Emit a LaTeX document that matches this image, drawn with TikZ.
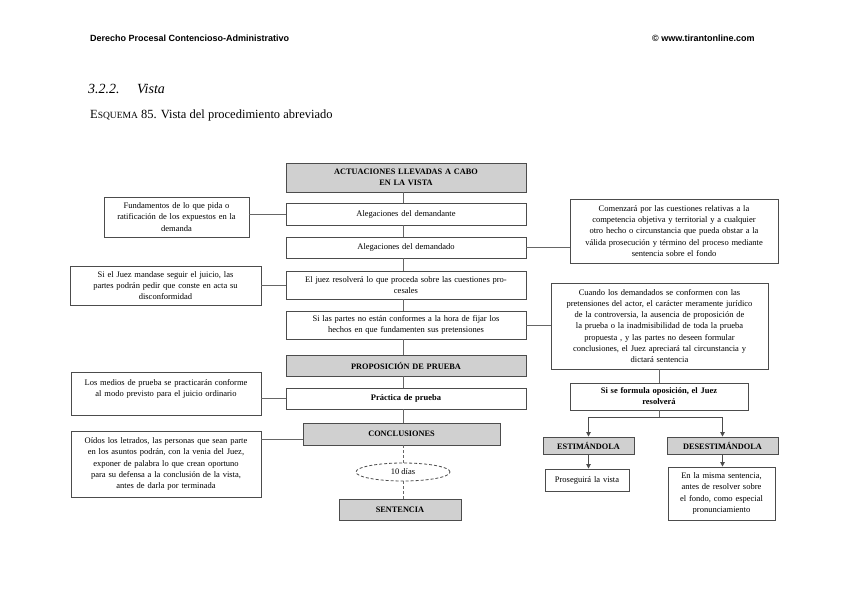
\documentclass[tikz,border=0pt]{standalone}
\usepackage{fontspec}
\setmainfont{Liberation Serif}
\newfontfamily\hdrfont{Liberation Sans}
\usetikzlibrary{shapes.geometric,arrows.meta,calc}
\begin{document}
\begin{tikzpicture}[x=1pt,y=-1pt,
 box/.style={draw=black!70, line width=0.9pt, fill=white, rectangle, inner sep=2pt, align=center, font=\fontsize{8.5}{11.3}\selectfont},
 graybox/.style={box, fill=gray!37, font=\fontsize{8.3}{10.5}\selectfont\bfseries},
 boldbox/.style={box, font=\fontsize{8.5}{11}\selectfont\bfseries},
 link/.style={draw=black!60, line width=0.9pt},
 dlink/.style={link, densely dashed},
 arr/.style={draw=black!70, line width=0.9pt, -{Triangle[length=4.5pt,width=4.5pt]}},
 hdr/.style={font=\hdrfont\bfseries\fontsize{9}{10}\selectfont, anchor=base west, inner sep=0pt}
]
\useasboundingbox[fill=white] (0,0) rectangle (848,601);

% page headers
\node[hdr] (h1) at (90,42) {Derecho Procesal Contencioso-Administrativo};
\node[hdr] (h2) at (652,42) {© www.tirantonline.com};
\node[anchor=base west, inner sep=0pt, font=\itshape\fontsize{14}{16}\selectfont] (sec) at (88,94) {3.2.2.};
\node[anchor=base west, inner sep=0pt, font=\itshape\fontsize{14}{16}\selectfont] (sect) at (137,94) {Vista};
\node[anchor=base west, inner sep=0pt, font=\fontsize{12.5}{14}\selectfont] (cap) at (90,119) {E{\fontsize{9.5}{11}\selectfont SQUEMA} 85. Vista del procedimiento abreviado};

% central column
\coordinate (sp) at (403,0);
\node[graybox, minimum width=240pt, minimum height=29pt, text width=232pt] (act) at (406,177.5) {ACTUACIONES LLEVADAS A CABO\\EN LA VISTA};
\node[box, minimum width=240pt, minimum height=22pt, text width=232pt] (dte) at (406,214) {Alegaciones del demandante};
\node[box, minimum width=240pt, minimum height=21pt, text width=232pt] (ddo) at (406,247.5) {Alegaciones del demandado};
\node[box, minimum width=240pt, minimum height=28pt, text width=236pt] (juez) at (406,285) {El juez resolverá lo que proceda sobre las cuestiones pro-\\cesales};
\node[box, minimum width=240pt, minimum height=28pt, text width=232pt] (partes) at (406,325) {Si las partes no están conformes a la hora de fijar los\\hechos en que fundamenten sus pretensiones};
\node[graybox, minimum width=240pt, minimum height=21pt, text width=232pt] (prop) at (406,365.5) {PROPOSICIÓN DE PRUEBA};
\node[boldbox, minimum width=240pt, minimum height=21pt, text width=232pt] (prac) at (406,398.5) {Práctica de prueba};
\node[graybox, minimum width=197pt, minimum height=22pt, text width=189pt] (concl) at (401.5,434) {CONCLUSIONES};
\node[ellipse, draw=black!70, line width=0.8pt, densely dashed, minimum width=94pt, minimum height=18pt, inner sep=0pt, font=\fontsize{8.5}{10}\selectfont] (ell) at (403,472) {10 días};
\node[graybox, minimum width=122pt, minimum height=21pt, text width=114pt] (sent) at (400,509.5) {SENTENCIA};

% left column
\node[box, minimum width=145pt, minimum height=40pt, text width=141pt] (fund) at (176.5,217) {Fundamentos de lo que pida o\\ratificación de los expuestos en la\\demanda};
\node[box, minimum width=191pt, minimum height=39pt, text width=187pt] (siel) at (165.5,285.5) {Si el Juez mandase seguir el juicio, las\\partes podrán pedir que conste en acta su\\disconformidad};
\node[box, minimum width=190pt, minimum height=43pt, text width=186pt] (medios) at (166,393.5) {Los medios de prueba se practicarán conforme\\al modo previsto para el juicio ordinario\\\mbox{}};
\node[box, minimum width=190pt, minimum height=66pt, text width=186pt] (oidos) at (166,464) {Oídos los letrados, las personas que sean parte\\en los asuntos podrán, con la venia del Juez,\\exponer de palabra lo que crean oportuno\\para su defensa a la conclusión de la vista,\\antes de darla por terminada};

% right column
\node[box, minimum width=208pt, minimum height=64pt, text width=204pt] (com) at (674,231) {Comenzará por las cuestiones relativas a la\\competencia objetiva y territorial y a cualquier\\otro hecho o circunstancia que pueda obstar a la\\válida prosecución y término del proceso mediante\\sentencia sobre el fondo};
\node[box, minimum width=217pt, minimum height=86pt, text width=213pt] (cuando) at (659.5,326) {Cuando los demandados se conformen con las\\pretensiones del actor, el carácter meramente jurídico\\de la controversia, la ausencia de proposición de\\la prueba o la inadmisibilidad de toda la prueba\\propuesta , y las partes no deseen formular\\conclusiones, el Juez apreciará tal circunstancia y\\dictará sentencia};
\node[boldbox, minimum width=178pt, minimum height=27pt, text width=172pt] (opos) at (659,396.5) {Si se formula oposición, el Juez\\resolverá};
\node[graybox, minimum width=91pt, minimum height=17pt, text width=89pt, inner sep=1pt] (est) at (588.5,445.5) {ESTIMÁNDOLA};
\node[graybox, minimum width=111pt, minimum height=17pt, text width=109pt, inner sep=1pt] (desest) at (722.5,445.5) {DESESTIMÁNDOLA};
\node[box, minimum width=84pt, minimum height=22pt, text width=80pt] (pros) at (587,480) {Proseguirá la vista};
\node[box, minimum width=107pt, minimum height=53pt, text width=103pt] (misma) at (721.5,493.5) {En la misma sentencia,\\antes de resolver sobre\\el fondo, como especial\\pronunciamiento};

% spine connectors
\draw[link] (act.south -| sp) -- (dte.north -| sp);
\draw[link] (dte.south -| sp) -- (ddo.north -| sp);
\draw[link] (ddo.south -| sp) -- (juez.north -| sp);
\draw[link] (juez.south -| sp) -- (partes.north -| sp);
\draw[link] (partes.south -| sp) -- (prop.north -| sp);
\draw[link] (prop.south -| sp) -- (prac.north -| sp);
\draw[link] (prac.south -| sp) -- (concl.north -| sp);
\draw[dlink] (concl.south -| sp) -- (ell.north);
\draw[dlink] (ell.south) -- (sent.north -| sp);

% left connectors
\draw[link] (dte.west) -- (dte.west -| fund.east);
\draw[link] (juez.west) -- (juez.west -| siel.east);
\draw[link] (prac.west) -- (prac.west -| medios.east);
\coordinate (cw) at ($(concl.west)+(0,5)$);
\draw[link] (cw) -- (cw -| oidos.east);

% right connectors
\draw[link] (ddo.east) -- (ddo.east -| com.west);
\draw[link] (partes.east) -- (partes.east -| cuando.west);
\draw[link] (cuando.south) -- (cuando.south |- opos.north);
\coordinate (br) at ($(opos.south)+(0,7)$);
\draw[link] (opos.south) -- (br);
\draw[arr] (br) -| (est.north);
\draw[arr] (br) -| (desest.north);
\draw[arr] (est.south) -- (est.south |- pros.north);
\draw[arr] (desest.south) -- (desest.south |- misma.north);
\end{tikzpicture}
\end{document}
